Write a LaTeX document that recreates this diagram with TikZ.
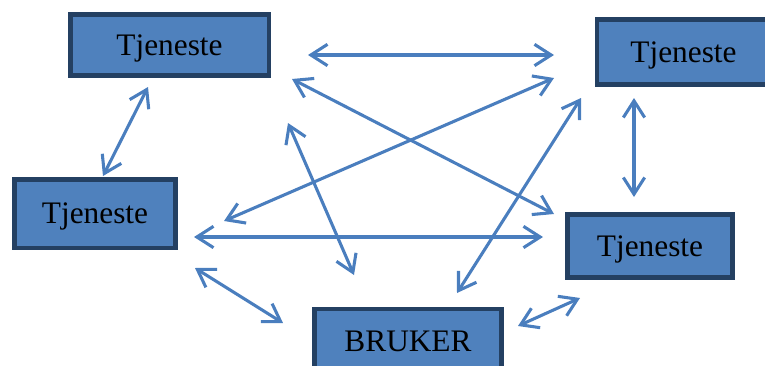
\documentclass[tikz,border=0pt]{standalone}
\usepackage{fontspec}
\setmainfont{Liberation Serif}
\usetikzlibrary{arrows.meta}
\definecolor{boxfill}{RGB}{79,129,189}
\definecolor{boxline}{RGB}{36,64,98}
\definecolor{arrowc}{RGB}{74,126,190}
\begin{document}
\begin{tikzpicture}[x=0.75pt,y=-0.75pt,
  box/.style={draw=boxline,fill=boxfill,line width=3.4pt,inner sep=0pt,
    text depth=0pt,
    font=\fontsize{23.5}{26}\selectfont,text=black},
  link/.style={draw=arrowc,line width=2.3pt,
    {Straight Barb[length=12.5pt,width=16pt]}-{Straight Barb[length=12.5pt,width=16pt]}}]
\useasboundingbox (0,0) rectangle (765,365);
\node[box,minimum width=148.9pt,minimum height=46.1pt] (b1) at (169.5,45) {Tjeneste};
\node[box,minimum width=129.5pt,minimum height=49.1pt] (b2) at (683.5,52) {Tjeneste};
\node[box,minimum width=121.1pt,minimum height=51.4pt] (b3) at (95,213.5) {Tjeneste};
\node[box,minimum width=124.1pt,minimum height=47.6pt] (b4) at (650,246) {Tjeneste};
\node[box,minimum width=140.6pt,minimum height=48pt] (b5) at (408,341) {BRUKER};
% arrow end points
\coordinate (p1a) at (308,55);  \coordinate (p1b) at (554,55);
\coordinate (p2a) at (292,79);  \coordinate (p2b) at (554,214);
\coordinate (p3a) at (554,78);  \coordinate (p3b) at (224,221);
\coordinate (p4a) at (148,87);  \coordinate (p4b) at (103,176);
\coordinate (p5a) at (634,98);  \coordinate (p5b) at (634,197);
\coordinate (p6a) at (288,123); \coordinate (p6b) at (354,275);
\coordinate (p7a) at (581,98);  \coordinate (p7b) at (457,293);
\coordinate (p8a) at (194,237); \coordinate (p8b) at (543,237);
\coordinate (p9a) at (195,268); \coordinate (p9b) at (283,323);
\coordinate (p10a) at (518,326); \coordinate (p10b) at (580,298);
\foreach \i in {1,...,10}{\draw[link] (p\i a) -- (p\i b);}
\end{tikzpicture}
\end{document}
